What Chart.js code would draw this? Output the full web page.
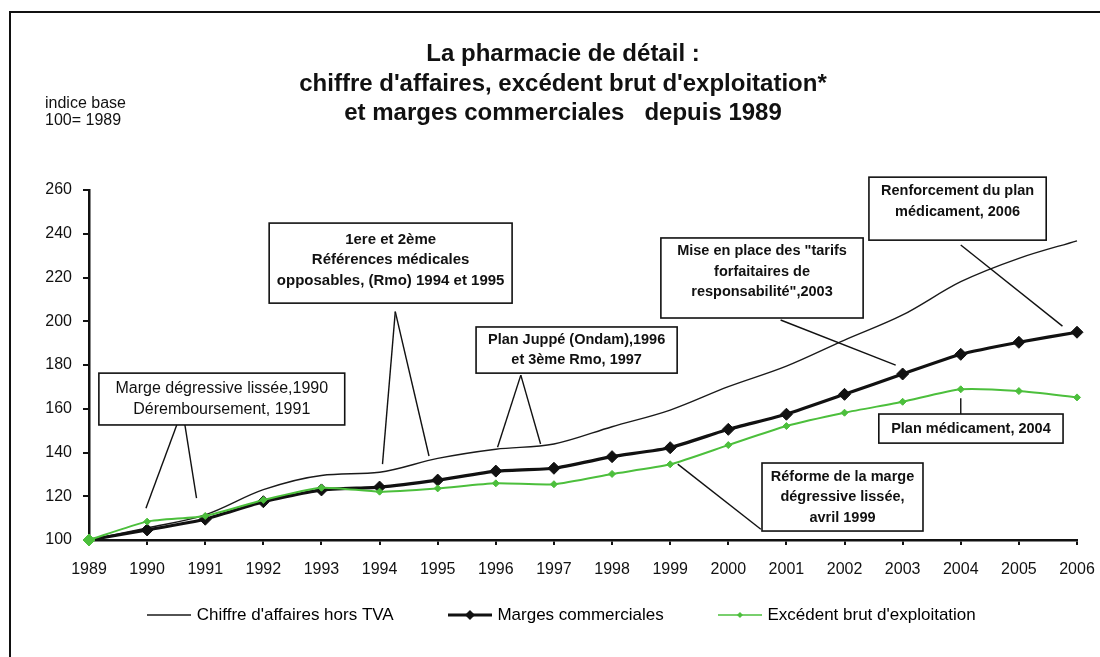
<!DOCTYPE html>
<html lang="fr">
<head>
<meta charset="utf-8">
<title>La pharmacie de détail</title>
<script src="https://cdn.jsdelivr.net/npm/chart.js@4.4.1/dist/chart.umd.min.js"></script>
<style>
  html, body { margin: 0; padding: 0; background: #fff; }
  #wrap { width: 1100px; height: 657px; }
</style>
</head>
<body>
<div id="wrap"><canvas id="chart" width="1100" height="657"></canvas></div>
<script>
// --- données (indice base 100 = 1989) ---
var years = ['1989', '1990', '1991', '1992', '1993', '1994', '1995', '1996', '1997',
             '1998', '1999', '2000', '2001', '2002', '2003', '2004', '2005', '2006'];
var chiffreAffaires = [100, 105.5, 111.5, 123, 129.5, 131, 137.3, 141.5, 143.9,
                       151.8, 159.4, 170.1, 179.5, 191.4, 202.9, 218.1, 228.8, 236.8];
var margesCommerciales = [100, 104.6, 109.5, 117.5, 122.9, 124.2, 127.4, 131.5, 132.8,
                          138.1, 142.2, 150.6, 157.5, 166.6, 175.9, 184.9, 190.4, 195.0];
var excedentBrut = [100, 108.4, 111.0, 118.3, 123.9, 122.1, 123.6, 125.9, 125.5,
                    130.2, 134.6, 143.4, 152.1, 158.2, 163.2, 168.9, 168.1, 165.2];
var seriesNames = ["Chiffre d'affaires hors TVA", 'Marges commerciales', "Excédent brut d'exploitation"];
var yMin = 100, yMax = 260, yStep = 20;
var titleLines = ['La pharmacie de détail :',
                  "chiffre d'affaires, excédent brut d'exploitation*",
                  'et marges commerciales   depuis 1989'];
var unitLines = ['indice base', '100= 1989'];

var FONT = "'Liberation Sans', Arial, sans-serif";
var GREEN = '#4cbf3c';

// encadrés : position en unités de données (x = rang de l'année, y = indice)
var notes = [
  { text: ['Marge dégressive lissée,1990', 'Déremboursement, 1991'], bold: false, size: 16,
    box: [0.17, 176.3, 4.40, 152.6], dy: 0,
    leaders: [[1.51, 152.6, 0.98, 114.5], [1.65, 152.6, 1.85, 119.1]] },
  { text: ['1ere et 2ème', 'Références médicales', 'opposables, (Rmo) 1994 et 1995'], bold: true, size: 15,
    box: [3.10, 244.9, 7.28, 208.3], dy: -3,
    leaders: [[5.27, 204.4, 5.05, 134.7], [5.27, 204.4, 5.85, 138.4]] },
  { text: ['Plan Juppé (Ondam),1996', 'et 3ème Rmo, 1997'], bold: true, size: 14.5,
    box: [6.66, 197.4, 10.12, 176.3], dy: 0,
    leaders: [[7.43, 175.4, 7.03, 142.4], [7.43, 175.4, 7.77, 143.9]] },
  { text: ['Mise en place des "tarifs', 'forfaitaires de', 'responsabilité",2003'], bold: true, size: 14.5,
    box: [9.84, 238.1, 13.32, 201.5], dy: -6,
    leaders: [[11.90, 200.6, 13.88, 180.0]] },
  { text: ['Renforcement du plan', 'médicament, 2006'], bold: true, size: 14.5,
    box: [13.42, 265.9, 16.47, 237.1], dy: -7,
    leaders: [[15.0, 234.9, 16.75, 197.8]] },
  { text: ['Plan médicament, 2004'], bold: true, size: 14.5,
    box: [13.59, 157.6, 16.76, 144.3], dy: 0,
    leaders: [[15.0, 164.8, 15.0, 157.5]] },
  { text: ['Réforme de la marge', 'dégressive lissée,', 'avril 1999'], bold: true, size: 14.5,
    box: [11.58, 135.2, 14.35, 104.1], dy: 0,
    leaders: [[10.13, 134.7, 11.56, 104.9]] }
];

// petits échantillons de légende (trait + losange), un peu plus larges que la case
function makeSample(color, lineWidth, r) {
  var c = document.createElement('canvas');
  c.width = 44; c.height = 16;
  var g = c.getContext('2d');
  g.strokeStyle = color; g.lineWidth = lineWidth;
  g.beginPath(); g.moveTo(0, 8); g.lineTo(44, 8); g.stroke();
  if (r) {
    g.fillStyle = color;
    g.beginPath();
    g.moveTo(22, 8 - r); g.lineTo(22 + r, 8); g.lineTo(22, 8 + r); g.lineTo(22 - r, 8);
    g.closePath(); g.fill();
  }
  return c;
}
var legendSamples = [makeSample('#1a1a1a', 1.3, 0), makeSample('#111', 3.2, 5), makeSample(GREEN, 1.5, 3)];
var legendGap = '          '; // espace entre les entrées de légende

// cadre, titre d'unité et encadrés
var decorPlugin = {
  id: 'decor',
  beforeDraw: function(chart) {
    var ctx = chart.ctx;
    ctx.save();
    ctx.fillStyle = '#fff';
    ctx.fillRect(0, 0, chart.width, chart.height);
    ctx.strokeStyle = '#111'; ctx.lineWidth = 2;
    ctx.beginPath();
    ctx.moveTo(10, chart.height); ctx.lineTo(10, 12); ctx.lineTo(chart.width, 12);
    ctx.stroke();
    ctx.fillStyle = '#111';
    ctx.font = '16px ' + FONT;
    ctx.textBaseline = 'middle'; ctx.textAlign = 'left';
    ctx.fillText(unitLines[0], 45, 104);
    ctx.fillText(unitLines[1], 45, 121);
    ctx.restore();
  },
  afterDatasetsDraw: function(chart) {
    var ctx = chart.ctx, xs = chart.scales.x, ys = chart.scales.y;
    ctx.save();
    ctx.strokeStyle = '#111';
    notes.forEach(function(n) {
      ctx.lineWidth = 1.4;
      n.leaders.forEach(function(l) {
        ctx.beginPath();
        ctx.moveTo(xs.getPixelForValue(l[0]), ys.getPixelForValue(l[1]));
        ctx.lineTo(xs.getPixelForValue(l[2]), ys.getPixelForValue(l[3]));
        ctx.stroke();
      });
      var x0 = xs.getPixelForValue(n.box[0]), y0 = ys.getPixelForValue(n.box[1]);
      var x1 = xs.getPixelForValue(n.box[2]), y1 = ys.getPixelForValue(n.box[3]);
      ctx.fillStyle = '#fff';
      ctx.fillRect(x0, y0, x1 - x0, y1 - y0);
      ctx.lineWidth = 1.6;
      ctx.strokeRect(x0, y0, x1 - x0, y1 - y0);
      ctx.fillStyle = '#111';
      ctx.font = (n.bold ? 'bold ' : '') + n.size + 'px ' + FONT;
      ctx.textAlign = 'center'; ctx.textBaseline = 'middle';
      var lh = 20.5, cy = (y0 + y1) / 2 + n.dy - (n.text.length - 1) * lh / 2;
      n.text.forEach(function(t, i) {
        ctx.fillText(t, (x0 + x1) / 2, cy + i * lh);
      });
    });
    ctx.restore();
  }
};

Chart.defaults.font.family = FONT;
Chart.defaults.color = '#111';

new Chart(document.getElementById('chart').getContext('2d'), {
  type: 'line',
  data: {
    labels: years,
    datasets: [
      {
        label: seriesNames[0],
        data: chiffreAffaires,
        borderColor: '#1a1a1a',
        borderWidth: 1.4,
        pointRadius: 0,
        cubicInterpolationMode: 'monotone',
        order: 3,
        clip: false
      },
      {
        label: seriesNames[1],
        data: margesCommerciales,
        borderColor: '#111',
        backgroundColor: '#111',
        borderWidth: 3.2,
        pointStyle: 'rectRot',
        pointRadius: 6,
        pointBackgroundColor: '#111',
        pointBorderColor: '#111',
        pointBorderWidth: 1,
        tension: 0.15,
        order: 2,
        clip: false
      },
      {
        label: seriesNames[2],
        data: excedentBrut,
        borderColor: GREEN,
        backgroundColor: GREEN,
        borderWidth: 2,
        pointStyle: 'rectRot',
        pointRadius: function(c) { return c.dataIndex === 0 ? 6 : 3.5; },
        pointBackgroundColor: GREEN,
        pointBorderColor: GREEN,
        pointBorderWidth: 1,
        tension: 0.2,
        order: 1,
        clip: false
      }
    ]
  },
  options: {
    responsive: false,
    animation: false,
    events: [],
    layout: { padding: { left: 34, right: 8, top: 0, bottom: 23.5 } },
    plugins: {
      tooltip: { enabled: false },
      title: {
        display: true,
        text: titleLines,
        color: '#111',
        font: { size: 24, weight: 'bold', lineHeight: 1.23 },
        padding: { top: 40, bottom: 61.5 }
      },
      legend: {
        position: 'bottom',
        labels: {
          usePointStyle: true,
          pointStyleWidth: 38,
          padding: 10,
          color: '#111',
          font: { size: 17 },
          generateLabels: function(chart) {
            var n = chart.data.datasets.length;
            return chart.data.datasets.map(function(ds, i) {
              return { text: ds.label + (i < n - 1 ? legendGap : ''), pointStyle: legendSamples[i],
                       fillStyle: 'transparent', strokeStyle: 'transparent', lineWidth: 0,
                       hidden: false, datasetIndex: i };
            });
          }
        }
      }
    },
    scales: {
      x: {
        grid: { drawOnChartArea: false, drawTicks: true, tickLength: 5, color: '#111', lineWidth: 2 },
        border: { display: true, color: '#111', width: 2.5 },
        ticks: { font: { size: 16 }, padding: 15, maxRotation: 0, autoSkip: false },
        afterFit: function(scale) { scale.height = 56.5; scale.paddingRight = 23; }
      },
      y: {
        min: yMin,
        max: yMax,
        grid: { drawOnChartArea: false, drawTicks: true, tickLength: 6, color: '#111', lineWidth: 2 },
        border: { display: true, color: '#111', width: 2.5 },
        ticks: { stepSize: yStep, font: { size: 16 }, padding: 11 },
        afterFit: function(scale) { scale.width = 55; }
      }
    }
  },
  plugins: [decorPlugin]
});
</script>
</body>
</html>
